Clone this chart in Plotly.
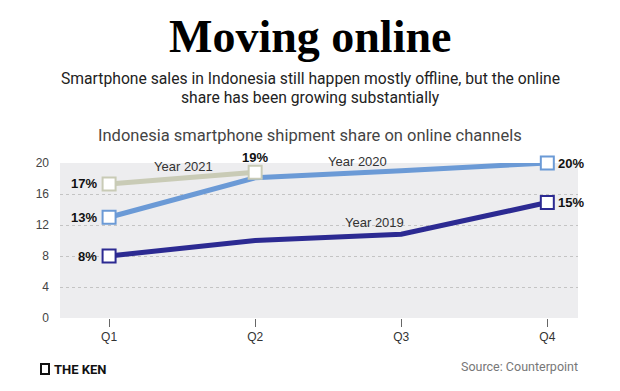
import plotly.graph_objects as go

quarters = ["Q1", "Q2", "Q3", "Q4"]
y2019 = [8, 10, 10.8, 14.9]
y2020 = [13, 18.1, 19, 20]
y2021 = [17.3, 18.8]
labels2019 = ["8%", "", "", "15%"]
labels2020 = ["13%", "", "", "20%"]
labels2021 = ["17%", "19%"]
yticks = [0, 4, 8, 12, 16, 20]

c2019 = "#2c2a92"
c2020 = "#6b9ad6"
c2021 = "#c9cbb6"

fig = go.Figure()

def add_series(n, ys, color, name):
    fig.add_trace(go.Scatter(
        x=list(range(n)), y=ys, mode="lines", name=name,
        line=dict(color=color, width=5), hoverinfo="skip", showlegend=False, cliponaxis=False))

def add_markers(idx, ys, color):
    fig.add_trace(go.Scatter(
        x=idx, y=[ys[i] for i in idx], mode="markers",
        marker=dict(symbol="square", size=13, color="white",
                    line=dict(color=color, width=2)),
        hoverinfo="skip", showlegend=False, cliponaxis=False))

add_series(len(y2019), y2019, c2019, "2019")
add_series(len(y2020), y2020, c2020, "2020")
add_series(len(y2021), y2021, c2021, "2021")
add_markers([0, 3], y2019, c2019)
add_markers([0, 3], y2020, c2020)
add_markers([0, 1], y2021, c2021)

ann = []
valfont = dict(family="Liberation Sans, Arial, sans-serif", size=13, color="#111")

def val_label(x, y, text, side):
    d = dict(x=x, y=y, xref="x", yref="y", text="<b>%s</b>" % text, showarrow=False, font=valfont)
    if side == "left":
        d.update(xanchor="right", xshift=-10)
    elif side == "right":
        d.update(xanchor="left", xshift=9)
    else:
        d.update(yanchor="bottom", yshift=5)
    ann.append(d)

val_label(0, y2019[0], labels2019[0], "left")
val_label(3, y2019[3], labels2019[3], "right")
val_label(0, y2020[0], labels2020[0], "left")
val_label(3, y2020[3], labels2020[3], "right")
val_label(0, y2021[0], labels2021[0], "left")
val_label(1, y2021[1], labels2021[1], "top")

yearfont = dict(family="Liberation Sans, Arial, sans-serif", size=13, color="#333")
ann.append(dict(x=0.51, y=19.5, xref="x", yref="y", text="Year 2021", showarrow=False, font=yearfont))
ann.append(dict(x=1.7, y=19.9, yshift=2, xref="x", yref="y", text="Year 2020", showarrow=False, font=yearfont))
ann.append(dict(x=1.82, y=12.3, xref="x", yref="y", text="Year 2019", showarrow=False, font=yearfont))

W, H = 620, 391
OFF = 8  # page body margin
ml, mr, mt, mb = 60 - OFF, 42 + OFF, 163 - OFF, 73 + OFF
pw, ph = W - ml - mr, H - mt - mb

def px(x):
    return (x - OFF - ml) / pw

def py(y):
    return (H - mb - (y - OFF)) / ph

def top_text(text, cx, cy, font, xanchor="center"):
    ann.append(dict(text=text, x=px(cx), y=py(cy), xref="paper", yref="paper", showarrow=False,
                    xanchor=xanchor, yanchor="middle", font=font))

top_text("<b>Moving online</b>", 310, 36, dict(family="Liberation Serif, DejaVu Serif, serif", size=46, color="#000"))
top_text("Smartphone sales in Indonesia still happen mostly offline, but the online", 310, 79, dict(family="Roboto, Liberation Sans, sans-serif", size=15.7, color="#222"))
top_text("share has been growing substantially", 310, 98, dict(family="Roboto, Liberation Sans, sans-serif", size=15.7, color="#222"))
top_text("Indonesia smartphone shipment share on online channels", 310, 135, dict(family="Roboto, Liberation Sans, sans-serif", size=16.5, color="#444"))
top_text("Source: Counterpoint", 580, 366, dict(family="Roboto, Liberation Sans, sans-serif", size=12.5, color="#777"), xanchor="right")
top_text("<b>THE KEN</b>", 52, 369, dict(family="Roboto, Liberation Sans, sans-serif", size=13, color="#111"), xanchor="left")

fig.add_shape(type="rect", xref="paper", yref="paper",
              x0=px(41), x1=px(49), y0=py(364), y1=py(374),
              line=dict(color="#111", width=2), fillcolor="white")

fig.update_layout(
    width=W, height=H,
    margin=dict(l=ml, r=mr, t=mt, b=mb),
    paper_bgcolor="white", plot_bgcolor="#ededef",
    annotations=ann,
    xaxis=dict(range=[-0.336, 3.21], tickmode="array", tickvals=[0, 1, 2, 3], ticktext=quarters,
               showgrid=False, zeroline=False, ticks="outside", ticklen=8, tickcolor="#666",
               tickwidth=1, tickfont=dict(family="Liberation Sans, Arial, sans-serif", size=12, color="#333"),
               showline=False),
    yaxis=dict(range=[0, 20], tickmode="array", tickvals=yticks, ticktext=[str(v) for v in yticks],
               showgrid=True, gridcolor="#c4c4c4", griddash="dot", gridwidth=1, zeroline=False,
               tickfont=dict(family="Liberation Sans, Arial, sans-serif", size=12, color="#444"),
               ticks="", ticklabelstandoff=10),
)

fig.write_html("out.html")
